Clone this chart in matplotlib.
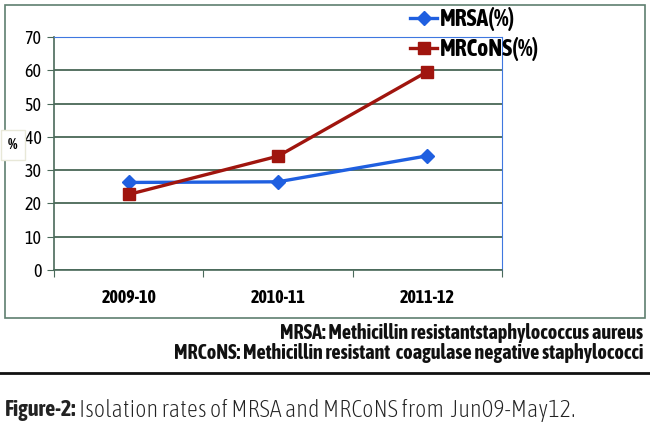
import matplotlib
matplotlib.use("Agg")
import matplotlib.pyplot as plt
from matplotlib.patches import Rectangle
from matplotlib.lines import Line2D

# データ
years = ["2009-10", "2010-11", "2011-12"]
mrsa = [26.3, 26.5, 34.3]
mrcons = [22.7, 34.2, 59.6]
yticks = [0, 10, 20, 30, 40, 50, 60, 70]

narrow = ["Asap Condensed", "DejaVu Sans"]
plt.rcParams["font.family"] = narrow

W, H = 650, 429
fig = plt.figure(figsize=(W / 100, H / 100), dpi=100)

# 外枠
fig.patches.append(Rectangle((5 / W, 1 - 318 / H), 640 / W, 313 / H,
                             transform=fig.transFigure, fill=False,
                             edgecolor="#5f7f6f", linewidth=1.2))

ax = fig.add_axes([54 / W, 1 - 270 / H, 448 / W, 233 / H])
x = range(len(years))
ax.plot(x, mrsa, color="#1f5fe0", linewidth=2.4, marker="D", markersize=7,
        label="MRSA(%)")
ax.plot(x, mrcons, color="#a0150e", linewidth=2.4, marker="s", markersize=8,
        label="MRCoNS(%)")

ax.set_xlim(-0.5, 2.5)
ax.set_ylim(0, 70)
ax.set_yticks(yticks)
ax.set_xticks([-0.5, 0.5, 1.5, 2.5], minor=False)
ax.set_xticklabels([])
ax.set_xticks(list(x), minor=True)
ax.set_xticklabels(years, minor=True, fontsize=13, fontweight="bold")
ax.tick_params(axis="x", which="minor", length=0, pad=14)
ax.tick_params(axis="x", which="major", length=5, color="#4a6a5a")
ax.tick_params(axis="y", length=5, color="#4a6a5a", labelsize=13, pad=4)
ax.yaxis.grid(True, color="#3a5a48", linewidth=1.2)
ax.set_axisbelow(True)
for s in ["top", "right"]:
    ax.spines[s].set_color("#3f78e0")
for s in ["left", "bottom"]:
    ax.spines[s].set_color("#4a6a5a")
    ax.spines[s].set_linewidth(1.2)

# 凡例
leg = fig.legend(loc="upper left", bbox_to_anchor=(410 / W, 1 - 7 / H),
                 frameon=False, prop={"size": 17, "weight": "bold"},
                 handlelength=1.15, handletextpad=0.12, labelspacing=0.25,
                 borderpad=0, borderaxespad=0)

# % ラベル
fig.text(13 / W, 1 - 145 / H, "%", ha="center", va="center", fontsize=11,
         fontweight="bold",
         bbox=dict(boxstyle="square,pad=0.5", facecolor="white",
                   edgecolor="#e8e8d8"))

# 略語説明
fig.text(643 / W, 1 - 333 / H, "MRSA: Methicillin resistantstaphylococcus aureus",
         ha="right", va="center", fontsize=14.5, fontweight="bold",
         color="#111111")
fig.text(643 / W, 1 - 353 / H,
         "MRCoNS: Methicillin resistant  coagulase negative staphylococci",
         ha="right", va="center", fontsize=14.5, fontweight="bold",
         color="#111111")

# 区切り線
fig.add_artist(Line2D([0, 1], [1 - 373 / H, 1 - 373 / H],
                      transform=fig.transFigure, color="#111111", linewidth=2))

# キャプション
fig.text(5 / W, 1 - 410 / H, "Figure-2:", ha="left", va="center",
         fontsize=16, fontweight="bold", color="#222222")
fig.text(79 / W, 1 - 410 / H, "Isolation rates of MRSA and MRCoNS from  Jun09-May12.",
         ha="left", va="center", fontsize=17.5, fontweight="light", color="#222222")

fig.savefig("out.png", dpi=100)
